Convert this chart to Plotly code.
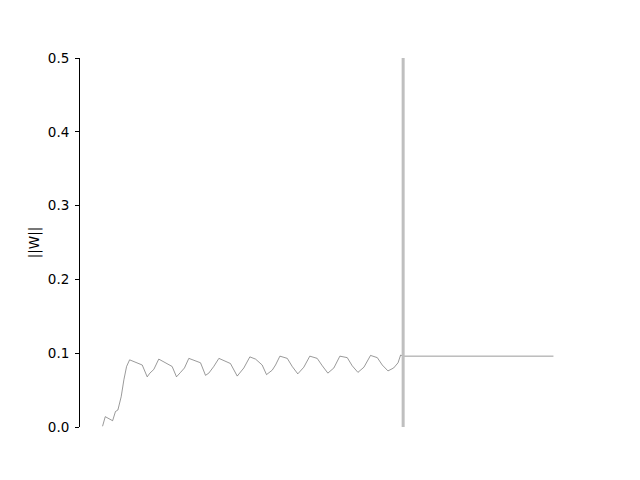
import plotly.graph_objects as go

# training steps and weight norm values
steps = [0, 1.8, 6.7, 8.6, 10.2, 12.4, 14.2, 16, 18, 26.4, 29.7, 31.5, 34.1, 37.4,
         46.3, 49.2, 51.9, 54.5, 57.4, 65.2, 68.5, 70.7, 74, 77.4, 85.1, 89.6, 94,
         98, 101.8, 106.2, 109.1, 112.9, 115.1, 118, 122.9, 126.2, 129.9, 133.9,
         137.9, 142.8, 146.2, 149.9, 153.9, 157.9, 162.8, 166.1, 169.9, 173.9,
         178.3, 182.8, 186.1, 189.9, 193.7, 196.6, 198.3, 200, 300]
w_norm = [0.001, 0.014, 0.0085, 0.021, 0.023, 0.041, 0.064, 0.082, 0.091, 0.084,
          0.068, 0.073, 0.078, 0.092, 0.082, 0.068, 0.074, 0.080, 0.093, 0.087,
          0.070, 0.073, 0.082, 0.093, 0.086, 0.069, 0.080, 0.095, 0.092, 0.084,
          0.071, 0.077, 0.084, 0.096, 0.093, 0.082, 0.072, 0.081, 0.096, 0.093,
          0.083, 0.073, 0.080, 0.096, 0.094, 0.083, 0.074, 0.081, 0.097, 0.094,
          0.084, 0.076, 0.080, 0.087, 0.0975, 0.096, 0.096]
vline_step = 200
y_ticks = [0.0, 0.1, 0.2, 0.3, 0.4, 0.5]
y_label = "||W||"

fig = go.Figure()
fig.add_trace(go.Scatter(x=steps, y=w_norm, mode="lines",
                         line=dict(color="#555555", width=0.6),
                         showlegend=False))
fig.add_shape(type="line", xref="x", yref="paper", x0=vline_step, x1=vline_step,
              y0=0, y1=1, line=dict(color="#bfbfbf", width=3))

xmin, xmax = min(steps), max(steps)
pad = (xmax - xmin) * 0.05
fig.update_layout(
    width=640, height=480,
    margin=dict(l=80, r=64, t=58, b=53),
    paper_bgcolor="white", plot_bgcolor="white",
    font=dict(family="DejaVu Sans", size=13.5, color="black"),
    xaxis=dict(range=[xmin - pad, xmax + pad], visible=False),
    yaxis=dict(range=[0, 0.5], tickvals=y_ticks,
               ticktext=[f"{v:.1f}" for v in y_ticks],
               showgrid=False, zeroline=False, showline=True,
               linecolor="black", linewidth=1, ticks="outside",
               ticklen=4, tickcolor="black", tickwidth=1,
               ticklabelstandoff=3,
               title=dict(text=y_label, standoff=5,
                          font=dict(family="DejaVu Sans", size=13.5))),
)
fig.write_html("out.html")
